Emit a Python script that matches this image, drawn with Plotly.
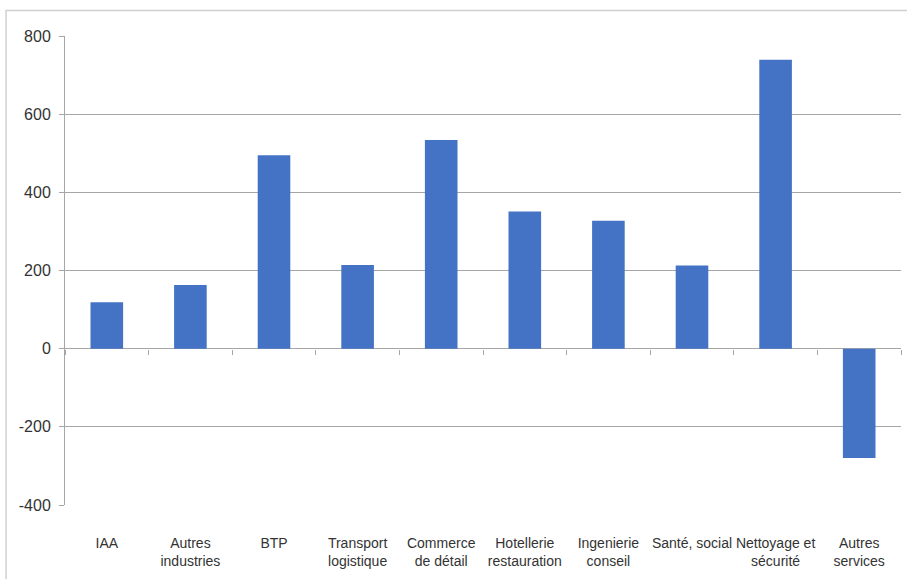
import plotly.graph_objects as go

categories = ["IAA", "Autres<br>industries", "BTP", "Transport<br>logistique",
              "Commerce<br>de détail", "Hotellerie<br>restauration", "Ingenierie<br>conseil",
              "Santé, social", "Nettoyage et<br>sécurité", "Autres<br>services"]
values = [119, 163, 495, 214, 534, 351, 327, 213, 739, -280]
y_ticks = [-400, -200, 0, 200, 400, 600, 800]

BAR = "#4472C4"
GRID = "#A6A6A6"
FONT = "Liberation Sans, Arial, sans-serif"

fig = go.Figure()
fig.add_trace(go.Bar(x=categories, y=values, marker=dict(color=BAR, line=dict(width=0)),
                     width=0.39, hoverinfo="skip", showlegend=False))
# invisible helper trace to drive the tick axis on the zero line
fig.add_trace(go.Scatter(x=categories, y=values, mode="none", xaxis="x2",
                         hoverinfo="skip", showlegend=False))

fig.update_layout(
    width=907, height=579, autosize=False,
    margin=dict(l=65, r=6, t=36, b=74, autoexpand=False),
    paper_bgcolor="white", plot_bgcolor="white",
    font=dict(family=FONT, size=14, color="#333333"),
    bargap=0.61,
    xaxis=dict(type="category", categoryorder="array", categoryarray=categories,
               range=[-0.5, 9.5], showgrid=False, showline=False, ticks="",
               tickangle=0, automargin=False,
               ticklabelstandoff=28, tickfont=dict(family=FONT, size=14, color="#333333"),
               zeroline=False, fixedrange=True),
    xaxis2=dict(type="category", categoryorder="array", categoryarray=categories,
                range=[-0.5, 9.5], overlaying="x", anchor="free", position=1/3,
                side="bottom", showgrid=False, showline=False, showticklabels=False,
                ticks="outside", tickson="boundaries", ticklen=5, tickcolor=GRID,
                tickwidth=1, zeroline=False, fixedrange=True, automargin=False),
    yaxis=dict(range=[-400, 800], tickvals=y_ticks, ticktext=[str(v) for v in y_ticks],
               showgrid=True, gridcolor=GRID, gridwidth=1,
               zeroline=True, zerolinecolor=GRID, zerolinewidth=1,
               showline=True, linecolor=GRID, linewidth=1,
               ticks="outside", ticklen=5, tickcolor=GRID, automargin=False,
               ticklabelstandoff=5, tickfont=dict(family=FONT, size=16, color="#333333"),
               fixedrange=True),
    shapes=[dict(type="rect", xref="paper", yref="paper",
                 x0=-0.0705, x1=1.02, y0=-0.3, y1=1.0544,
                 line=dict(color="#D0D0D0", width=1.5), layer="below")],
)

fig.write_html("out.html", config={"displayModeBar": False, "staticPlot": True},
               post_script="document.body.style.margin='0';")
